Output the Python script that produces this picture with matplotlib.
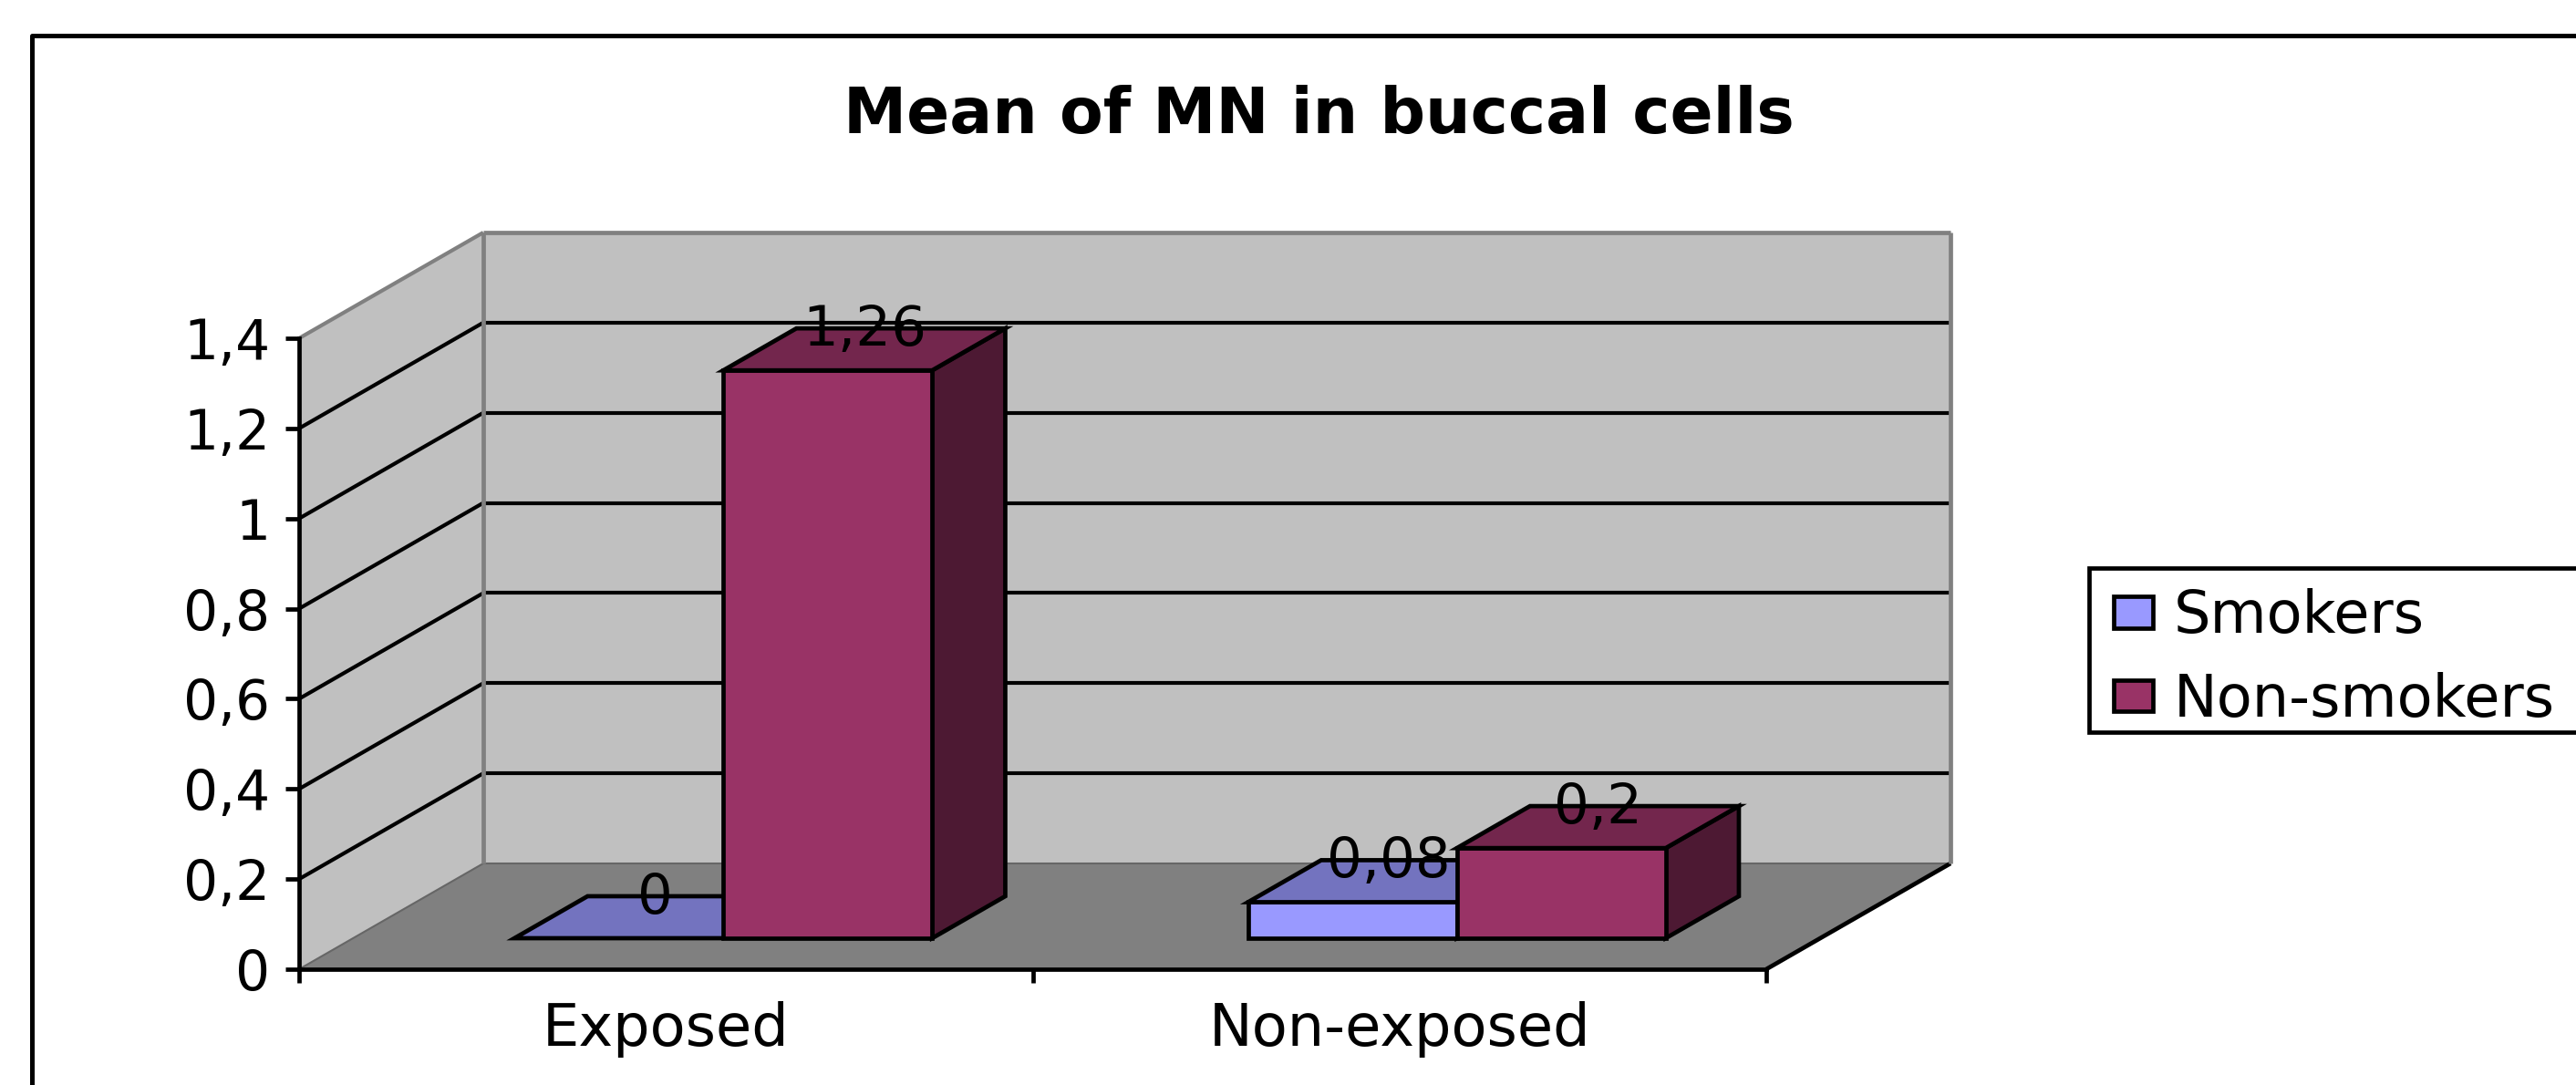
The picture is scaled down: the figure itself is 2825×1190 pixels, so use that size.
import matplotlib
matplotlib.use('Agg')
import matplotlib.pyplot as plt
from matplotlib.patches import Polygon, Patch, Rectangle
from matplotlib.lines import Line2D
from matplotlib.legend_handler import HandlerPatch
from matplotlib.ticker import FixedLocator, NullFormatter

plt.rcParams['font.family'] = ['DejaVu Sans']

title = 'Mean of MN in buccal cells'
categories = ['Exposed', 'Non-exposed']
smokers = [0, 0.08]
non_smokers = [1.26, 0.2]
value_labels = [['0', '0,08'], ['1,26', '0,2']]
yticks = [0, 0.2, 0.4, 0.6, 0.8, 1, 1.2, 1.4]
ytick_labels = ['0', '0,2', '0,4', '0,6', '0,8', '1', '1,2', '1,4']
series = ['Smokers', 'Non-smokers']

# 3d look: depth 1 is this far along x (categories) and y (values)
DEPTH_X = 202 / 804.5
DEPTH_Y = 116 / 494.3
BAR_W = 0.2847
BAR_START = 0.22
BAR_D0 = 0.293
BAR_D1 = 0.69

colors = {'Smokers': ('#9999FF', '#7373BF', '#4D4D80'),
          'Non-smokers': ('#993366', '#73264D', '#4D1933')}
W, H = 2825, 1190
LINE = 3.4


def proj(x, y, d):
    return (x + d * DEPTH_X, y + d * DEPTH_Y)


def face(ax, pts, fc, ec='black', lw=LINE, z=2):
    ax.add_patch(Polygon([proj(*p) for p in pts], closed=True, facecolor=fc, edgecolor=ec,
                         linewidth=lw, joinstyle='miter', clip_on=False, zorder=z))


def edge(ax, a, b, color, lw, z=1.5):
    p, q = proj(*a), proj(*b)
    ax.plot([p[0], q[0]], [p[1], q[1]], color=color, lw=lw, clip_on=False, zorder=z,
            solid_capstyle='butt')


def box(ax, x0, value, cols, label):
    x1 = x0 + BAR_W
    d0, d1 = BAR_D0, BAR_D1
    front, top, side = cols
    if value > 0:
        face(ax, [(x1, 0, d0), (x1, 0, d1), (x1, value, d1), (x1, value, d0)], side)
        face(ax, [(x0, 0, d0), (x1, 0, d0), (x1, value, d0), (x0, value, d0)], front)
    face(ax, [(x0, value, d0), (x1, value, d0), (x1, value, d1), (x0, value, d1)], top)
    px, py = proj(x0 + BAR_W / 2, value, (d0 + d1) / 2)
    ax.annotate(label, (px, py), xytext=(0, 3), textcoords='offset points', ha='center',
                va='baseline', fontsize=44, color='black', zorder=6, annotation_clip=False)


def swatch(legend, orig_handle, xdescent, ydescent, width, height, fontsize):
    # small box set in from the left of the handle area
    return Rectangle((width * 12 / 55 - xdescent, -ydescent), width * 43 / 55, height)


fig = plt.figure(figsize=(W / 100, H / 100), dpi=100)
fig.patch.set_facecolor('white')

# outer chart frame, runs off the right and bottom of the picture
fig.add_artist(Line2D([35 / W, 35 / W, 1], [0, 1 - 38.5 / H, 1 - 38.5 / H], color='black', lw=3.6))

ax = fig.add_axes([328 / W, 1 - 1063 / H, (1937 - 328) / W, (1063 - 371) / H])
ax.set_xlim(0, 2)
ax.set_ylim(0, 1.4)
ax.patch.set_visible(False)

# walls and floor
wall = '#C0C0C0'
gray = '#808080'
face(ax, [(0, 0, 1), (2, 0, 1), (2, 1.4, 1), (0, 1.4, 1)], wall, ec='none', lw=0, z=1)
face(ax, [(0, 0, 0), (0, 0, 1), (0, 1.4, 1), (0, 1.4, 0)], wall, ec='none', lw=0, z=1)
face(ax, [(0, 0, 0), (2, 0, 0), (2, 0, 1), (0, 0, 1)], gray, ec='#666666', lw=1.5, z=1.2)
edge(ax, (2, 0, 0), (2, 0, 1), 'black', LINE, z=1.3)
for v in yticks[1:-1]:
    edge(ax, (0, v, 0), (0, v, 1), 'black', 3)
    edge(ax, (0, v, 1), (2, v, 1), 'black', 3)
edge(ax, (0, 1.4, 0), (0, 1.4, 1), gray, 3, z=1.6)
edge(ax, (0, 1.4, 1), (2, 1.4, 1), gray, 3.4, z=1.6)
edge(ax, (0, 0, 1), (0, 1.4, 1), gray, 3.4, z=1.6)
edge(ax, (2, 0, 1), (2, 1.4, 1), gray, 3.4, z=1.6)

for i, cat in enumerate(categories):
    box(ax, i + BAR_START, smokers[i], colors[series[0]], value_labels[0][i])
    box(ax, i + BAR_START + BAR_W, non_smokers[i], colors[series[1]], value_labels[1][i])

for s in ['top', 'right']:
    ax.spines[s].set_visible(False)
for s in ['left', 'bottom']:
    ax.spines[s].set_linewidth(LINE)
    ax.spines[s].set_zorder(3)
ax.set_yticks(yticks)
ax.set_yticklabels(ytick_labels, fontsize=43)
ax.tick_params(axis='y', length=11, width=LINE, pad=12)
ax.set_xticks([0, 1, 2])
ax.xaxis.set_major_formatter(NullFormatter())
ax.tick_params(axis='x', which='major', length=11, width=LINE)
ax.xaxis.set_minor_locator(FixedLocator([0.5, 1.5]))
ax.set_xticklabels(categories, minor=True, fontsize=46)
ax.tick_params(axis='x', which='minor', length=0, pad=25)

fig.text(1446 / W, 1 - 146 / H, title, fontsize=50, fontweight='bold', ha='center', va='baseline')

# legend box drawn apart, the entries sit a bit low in it
fig.add_artist(Rectangle((2291 / W, 1 - 803 / H), (W + 10 - 2291) / W, 180 / H, facecolor='white',
                         edgecolor='black', linewidth=LINE, transform=fig.transFigure))
handles = [Patch(facecolor=colors[s][0], edgecolor='black', linewidth=LINE) for s in series]
fig.legend(handles, series, loc='center left',
           bbox_to_anchor=(2291 / W, 1 - 803 / H - 9 / H, (W - 2291) / W, 180 / H),
           handler_map={Patch: HandlerPatch(patch_func=swatch)},
           fontsize=46, frameon=False,
           handlelength=0.86, handleheight=0.45, handletextpad=0.36, labelspacing=0.465,
           borderpad=0.235, borderaxespad=0)

fig.savefig('out.png', dpi=100)
